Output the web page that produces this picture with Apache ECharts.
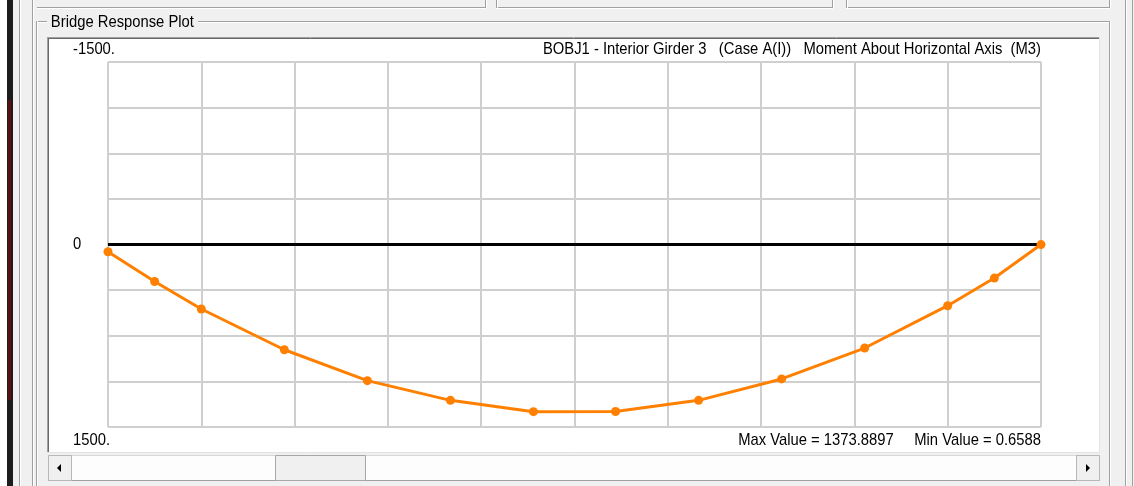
<!DOCTYPE html>
<html>
<head>
<meta charset="utf-8">
<script src="https://cdn.jsdelivr.net/npm/echarts@6/dist/echarts.min.js"></script>
<style>
html,body{margin:0;padding:0;background:#f0f0f0;}
#chart{width:1134px;height:486px;}
</style>
</head>
<body>
<div id="chart"></div>
<script>
// ---- data ----
const stations = [0, 0.5, 1, 1.89, 2.78, 3.67, 4.56, 5.44, 6.33, 7.22, 8.11, 9, 9.5, 10];
const moment = [60, 304, 530, 865, 1119, 1281, 1374, 1373, 1281, 1105, 851, 503, 276, 0.66];
const zeroLine = [[0, 0], [10, 0]];
const yTickValues = [-1500, 0, 1500];
const yTickLabels = ['-1500.', '0', '1500.'];
const plotTitle = 'BOBJ1 - Interior Girder 3   (Case A(I))   Moment About Horizontal Axis  (M3)';
const extremesText = 'Max Value = 1373.8897     Min Value = 0.6588';
const panelTitle = 'Bridge Response Plot';

const FONT = '"Liberation Sans Narrow","Arial Narrow","Liberation Sans",Arial,sans-serif';
const FS = '17px ';
const SX = 0.87;
const chart = echarts.init(document.getElementById('chart'));

function line(x1, y1, x2, y2, color, w) {
  return { type: 'line', z: -100, silent: true,
    shape: { x1: x1, y1: y1, x2: x2, y2: y2 },
    style: { stroke: color, lineWidth: w || 1 } };
}
function rect(x, y, w, h, fill, stroke) {
  return { type: 'rect', z: -100, silent: true,
    shape: { x: x, y: y, width: w, height: h },
    style: { fill: fill, stroke: stroke || null, lineWidth: 1 } };
}
function etchedH(x1, x2, y) { return [line(x1, y + 0.5, x2, y + 0.5, '#a0a0a0'), line(x1, y + 1.5, x2, y + 1.5, '#ffffff')]; }
function etchedV(x, y1, y2) { return [line(x + 0.5, y1, x + 0.5, y2, '#a0a0a0'), line(x + 1.5, y1, x + 1.5, y2, '#ffffff')]; }
function label(x, y, text, align) {
  return { type: 'text', z: 50, silent: true, x: x, y: y, scaleX: SX,
    style: { text: text, font: FS + FONT, fill: '#000', verticalAlign: 'middle', textAlign: align } };
}

const chrome = [].concat(
  [rect(0, 0, 7, 486, '#ffffff'), rect(7, 0, 6, 486, '#1c1c1c'), rect(8, 100, 3, 300, '#5a1010')],
  etchedV(19, 0, 486), etchedV(32, 0, 486),
  // upper group boxes (bottom edges)
  etchedH(37, 486, 7), etchedV(485, 0, 8),
  etchedH(496, 833, 7), etchedV(496, 0, 8), etchedV(832, 0, 8),
  etchedH(846, 1110, 7), etchedV(846, 0, 8), etchedV(1109, 0, 8),
  // main group box
  etchedH(37, 47, 21), etchedH(198, 1110, 21), etchedV(36, 21, 486), etchedV(1109, 21, 486),
  // white plot panel with sunken border
  [rect(47, 37, 1053, 416, '#ffffff'),
   line(47, 37.5, 1100, 37.5, '#a0a0a0'), line(48, 38.5, 1099, 38.5, '#696969'),
   line(47.5, 37, 47.5, 453, '#a0a0a0'), line(48.5, 38, 48.5, 452, '#696969'),
   line(1099.5, 37, 1099.5, 453, '#e3e3e3'), line(47, 452.5, 1100, 452.5, '#e3e3e3')],
  // scrollbar
  [rect(48, 455, 1052, 26, '#fdfdfd'),
   line(48, 455.5, 1100, 455.5, '#d8d8d8'), line(48, 480.5, 1100, 480.5, '#a0a0a0'),
   rect(48.5, 455.5, 23, 25, '#f0f0f0', '#b8b8b8'),
   rect(1076.5, 455.5, 23, 25, '#f0f0f0', '#b8b8b8'),
   rect(275.5, 455.5, 90, 25, '#f0f0f0', '#a8a8a8'),
   { type: 'polygon', z: -99, silent: true, shape: { points: [[57, 468], [61, 464], [61, 472]] }, style: { fill: '#000' } },
   { type: 'polygon', z: -99, silent: true, shape: { points: [[1090, 468], [1086, 464], [1086, 472]] }, style: { fill: '#000' } }],
  // right window edge
  [line(1125.5, 0, 1125.5, 486, '#a0a0a0'), line(1126.5, 0, 1126.5, 486, '#ffffff'),
   line(1132.5, 0, 1132.5, 486, '#a0a0a0')]
);

const panelLabel = label(50, 22, panelTitle, 'left');
panelLabel.style.backgroundColor = '#f0f0f0';
panelLabel.style.padding = [0, 3, 0, 1];
const texts = [
  panelLabel,
  label(1041, 49, plotTitle, 'right'),
  label(1041, 440, extremesText, 'right')
];

const option = {
  backgroundColor: '#f0f0f0',
  animation: false,
  grid: { left: 108, top: 62, width: 933, height: 365, show: false },
  xAxis: {
    type: 'value', min: 0, max: 10, interval: 1,
    axisLine: { show: false }, axisTick: { show: false }, axisLabel: { show: false },
    splitLine: { show: true, lineStyle: { color: '#cfcfcf', width: 2 } }
  },
  yAxis: {
    type: 'value', min: -1500, max: 1500, interval: 375, inverse: true,
    axisLine: { show: false }, axisTick: { show: false }, axisLabel: { show: false },
    splitLine: { show: true, lineStyle: { color: '#cfcfcf', width: 2 } }
  },
  graphic: { elements: chrome.concat(texts) },
  series: [
    { type: 'line', name: 'zero', data: zeroLine, symbol: 'none', silent: true, z: 3,
      lineStyle: { color: '#000000', width: 3 } },
    { type: 'line', name: 'M3', data: stations.map((s, i) => [s, moment[i]]), z: 4,
      symbol: 'circle', symbolSize: 9, showSymbol: true,
      itemStyle: { color: '#ff8000' }, lineStyle: { color: '#ff8000', width: 3 } }
  ]
};
chart.setOption(option);

// y tick labels placed through the axis scale
const tickEls = yTickValues.map((v, i) => {
  const py = chart.convertToPixel({ yAxisIndex: 0 }, v);
  const off = i === 0 ? -13 : (i === yTickValues.length - 1 ? 13 : 0);
  return label(73, py + off, yTickLabels[i], 'left');
});
chart.setOption({ graphic: { elements: chrome.concat(texts, tickEls) } }, { replaceMerge: ['graphic'] });
</script>
</body>
</html>
